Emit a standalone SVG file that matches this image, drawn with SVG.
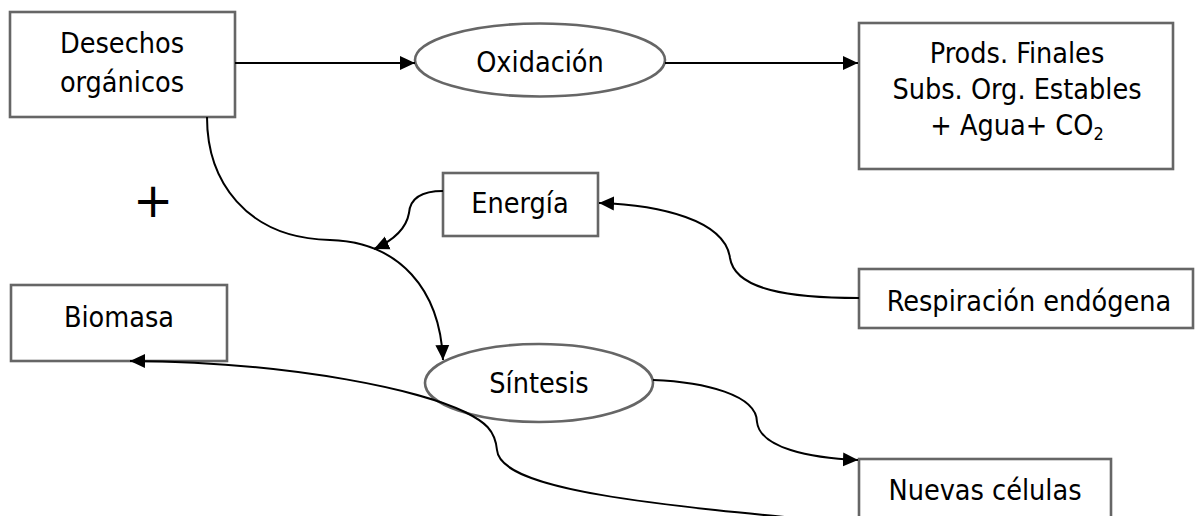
<svg xmlns="http://www.w3.org/2000/svg" width="1195" height="516" viewBox="0 0 1195 516">
<style>
.box{fill:#fff;stroke:#666;stroke-width:2.6}
.t{font-family:"DejaVu Sans Condensed","DejaVu Sans",sans-serif;font-stretch:condensed;font-size:28.5px;fill:#000;text-anchor:middle}
.c{fill:none;stroke:#000;stroke-width:2}
.a{marker-end:url(#arr)}
</style>
<defs>
<marker id="arr" markerUnits="userSpaceOnUse" markerWidth="16" markerHeight="16" viewBox="0 0 16 16" refX="15" refY="8" orient="auto">
<path d="M0,1 L15,8 L0,15 Z" fill="#000"/>
</marker>
</defs>
<rect width="1195" height="516" fill="#fff"/>
<g id="desechos">
<rect class="box" x="10" y="12" width="225" height="105"/>
<text class="t" x="122" y="53">Desechos</text>
<text class="t" x="122" y="92">orgánicos</text>
</g>
<g id="oxidacion">
<ellipse class="box" cx="540" cy="60" rx="125" ry="36.5"/>
<text class="t" x="540" y="72">Oxidación</text>
</g>
<g id="prods">
<rect class="box" x="859" y="23" width="314" height="146"/>
<text class="t" x="1017" y="63">Prods. Finales</text>
<text class="t" x="1017" y="99">Subs. Org. Estables</text>
<text class="t" x="1017" y="135">+ Agua+ CO<tspan font-size="18" dy="5">2</tspan></text>
</g>
<g id="plus">
<text x="153" y="217" font-family="DejaVu Sans,sans-serif" font-size="48" text-anchor="middle">+</text>
</g>
<g id="energia">
<rect class="box" x="443" y="173" width="155" height="63"/>
<text class="t" x="520" y="213">Energía</text>
</g>
<g id="respiracion">
<rect class="box" x="859" y="269" width="334" height="59"/>
<text class="t" x="1029" y="311">Respiración endógena</text>
</g>
<g id="biomasa">
<rect class="box" x="11" y="285" width="216" height="76"/>
<text class="t" x="119" y="327">Biomasa</text>
</g>
<g id="sintesis">
<ellipse class="box" cx="539" cy="383" rx="114" ry="39"/>
<text class="t" x="539" y="393">Síntesis</text>
</g>
<g id="nuevas">
<rect class="box" x="859" y="459" width="252" height="70"/>
<text class="t" x="985" y="500">Nuevas células</text>
</g>
<g id="connectors">
<path class="c a" d="M235,63 L415,63"/>
<path class="c a" d="M665,63 L858,63"/>
<path class="c a" d="M207,117 C207,180 245,238 330,240 C400,242 440,290 443,360"/>
<path class="c a" d="M443,191 C420,191 410,200 409,213 C406,230 392,241 374,249"/>
<path class="c a" d="M859,298 C790,298 735,290 730,258 C725,220 660,205 599,203"/>
<path class="c a" d="M653,380 C705,382 757,395 757,422 C760,448 810,458 858,460"/>
<path class="c a" d="M860,524 C650,505 500,490 497,450 C495,430 485,422 465,412 C425,392 300,362 130,361"/>
</g>
</svg>
